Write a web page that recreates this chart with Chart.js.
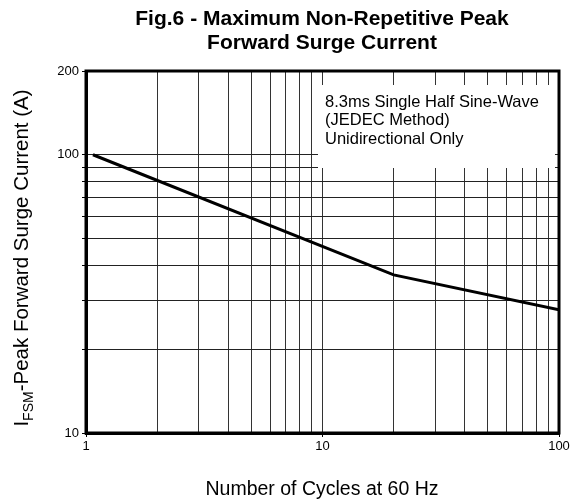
<!DOCTYPE html>
<html>
<head>
<meta charset="utf-8">
<script src="https://cdn.jsdelivr.net/npm/chart.js@4.4.1/dist/chart.umd.min.js"></script>
<style>
  html, body { margin: 0; padding: 0; background: #fff; }
</style>
</head>
<body>
<canvas id="surgeChart" width="580" height="501"></canvas>
<script>
// data
const cycles = [1.07, 20, 100];
const surgeAmps = [100, 37, 27.7];

const xTicks = [1, 2, 3, 4, 5, 6, 7, 8, 9, 10, 20, 30, 40, 50, 60, 70, 80, 90, 100];
const xLabels = [1, 10, 100];
const yTicks = [10, 20, 30, 40, 50, 60, 70, 80, 90, 100, 200];
const yLabels = [10, 100, 200];

const noteLines = ['8.3ms Single Half Sine-Wave', '(JEDEC Method)', 'Unidirectional Only'];
const FONT = '"Liberation Sans", Arial, Helvetica, sans-serif';

const decor = {
  id: 'decor',
  beforeDatasetsDraw(chart) {
    const c = chart.ctx;
    // white note box sits over the grid
    c.save();
    c.fillStyle = '#fff';
    c.fillRect(318, 85, 237, 83);
    c.fillStyle = '#000';
    c.font = '16.5px ' + FONT;
    c.textBaseline = 'middle';
    noteLines.forEach(function (t, i) {
      c.fillText(t, 325, 102 + i * 18.5);
    });
    c.restore();
  },
  afterDraw(chart) {
    const c = chart.ctx;
    const a = chart.chartArea;
    c.save();
    c.strokeStyle = '#000';
    c.lineWidth = 3;
    c.strokeRect(a.left, a.top, a.right - a.left, a.bottom - a.top);

    c.fillStyle = '#000';
    c.textAlign = 'center';
    c.textBaseline = 'alphabetic';
    c.font = 'bold 21px ' + FONT;
    c.fillText('Fig.6 - Maximum Non-Repetitive Peak', 322, 25);
    c.fillText('Forward Surge Current', 322, 49);

    c.font = '19.5px ' + FONT;
    c.fillText('Number of Cycles at 60 Hz', 322, 495);

    // y title with FSM subscript
    c.translate(20, 258);
    c.rotate(-Math.PI / 2);
    c.textAlign = 'left';
    const big = '20.5px ' + FONT, small = '14px ' + FONT;
    c.font = big;
    const w1 = c.measureText('I').width;
    const w3 = c.measureText('-Peak Forward Surge Current (A)').width;
    c.font = small;
    const w2 = c.measureText('FSM').width;
    let x = -(w1 + w2 + w3) / 2;
    c.font = big;
    c.fillText('I', x, 8);
    x += w1;
    c.font = small;
    c.fillText('FSM', x, 13);
    x += w2;
    c.font = big;
    c.fillText('-Peak Forward Surge Current (A)', x, 8);
    c.restore();
  }
};

new Chart(document.getElementById('surgeChart'), {
  type: 'line',
  data: {
    datasets: [{
      data: cycles.map(function (v, i) { return { x: v, y: surgeAmps[i] }; }),
      borderColor: '#000',
      borderWidth: 3,
      pointRadius: 0,
      tension: 0,
      fill: false
    }]
  },
  options: {
    responsive: false,
    animation: false,
    layout: { padding: { top: 71, right: 21, left: 0, bottom: 0 } },
    plugins: {
      legend: { display: false },
      title: { display: false },
      tooltip: { enabled: false }
    },
    scales: {
      x: {
        type: 'logarithmic',
        min: 1,
        max: 100,
        afterBuildTicks: function (s) { s.ticks = xTicks.map(function (v) { return { value: v }; }); },
        afterFit: function (s) { s.height = 68; },
        ticks: {
          autoSkip: false,
          maxRotation: 0,
          color: '#000',
          font: { family: FONT, size: 13 },
          padding: 2,
          callback: function (v) { return xLabels.includes(v) ? String(v) : ''; }
        },
        grid: {
          color: '#333',
          lineWidth: 1,
          tickLength: 4,
          tickColor: function (ctx) { return xLabels.includes(ctx.tick && ctx.tick.value) ? '#000' : 'rgba(0,0,0,0)'; }
        },
        border: { display: true, color: '#000', width: 3 }
      },
      y: {
        type: 'logarithmic',
        min: 10,
        max: 200,
        afterBuildTicks: function (s) { s.ticks = yTicks.map(function (v) { return { value: v }; }); },
        afterFit: function (s) { s.width = 86; },
        ticks: {
          autoSkip: false,
          color: '#000',
          font: { family: FONT, size: 13 },
          padding: 3,
          callback: function (v) { return yLabels.includes(v) ? String(v) : ''; }
        },
        grid: {
          color: '#222',
          lineWidth: 1,
          tickLength: 4,
          tickColor: '#000'
        },
        border: { display: true, color: '#000', width: 3 }
      }
    }
  },
  plugins: [decor]
});
</script>
</body>
</html>
